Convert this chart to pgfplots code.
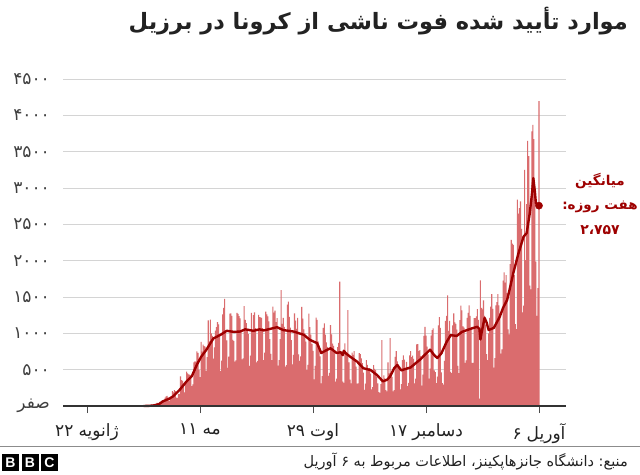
\documentclass[border=0pt]{standalone}
\usepackage{pgfplots}
\pgfplotsset{compat=1.18}
\usepackage{fontspec}
\setmainfont{DejaVu Sans}
\newfontfamily\arabicfont[Script=Arabic]{DejaVu Sans}
\newfontfamily\latinfont{Liberation Sans}
\TeXXeTstate=1
\newcommand\w[1]{\hbox{#1}}
\definecolor{barc}{RGB}{218,108,110}
\definecolor{linec}{RGB}{158,0,0}
\definecolor{gridc}{RGB}{212,212,212}
\definecolor{txt}{RGB}{34,34,34}
\begin{document}
\begin{tikzpicture}[x=1pt,y=1pt]
\useasboundingbox (0,0) rectangle (640,-474);
\fill[white] (0,0) rectangle (640,-474);
\begin{axis}[
  at={(63pt,-406pt)}, anchor=south west,
  scale only axis, width=503pt, height=327pt,
  xmin=-23.4, xmax=466.3, ymin=0, ymax=4500,
  axis line style={draw=none},
  ymajorgrids, grid style={gridc, line width=0.9pt},
  ytick={0,500,1000,1500,2000,2500,3000,3500,4000,4500},
  yticklabels={صفر,۵۰۰,۱۰۰۰,۱۵۰۰,۲۰۰۰,۲۵۰۰,۳۰۰۰,۳۵۰۰,۴۰۰۰,۴۵۰۰},
  ytick style={draw=none},
  yticklabel style={font=\arabicfont\fontsize{17}{17}\selectfont, text=black!75, anchor=east, inner sep=0pt, xshift=-6pt},
  xtick={0,110,220,330,440},
  xticklabels={{\beginR\w{ژانویه}\hspace{0.3em}\w{۲۲}\endR},{\beginR\w{مه}\hspace{0.3em}\w{۱۱}\endR},{\beginR\w{اوت}\hspace{0.3em}\w{۲۹}\endR},{\beginR\w{دسامبر}\hspace{0.3em}\w{۱۷}\endR},{\beginR\w{آوریل}\hspace{0.3em}\w{۶}\endR}},
  xtick pos=lower,
  xtick style={draw=black!70, line width=0.9pt},
  tick align=outside, major tick length=7pt,
  xticklabel style={font=\arabicfont\fontsize{17}{17}\selectfont, text=txt, anchor=north, yshift=-7pt},
  clip=false,
]
\addplot[ybar, bar width=1.05, bar shift=0pt, fill=barc, draw=none] table[row sep=\\, x expr=\coordindex+55, y=v] {
v\\
1\\3\\4\\4\\7\\7\\9\\
12\\20\\15\\18\\22\\23\\42\\
42\\40\\58\\60\\73\\54\\67\\
114\\133\\141\\115\\68\\99\\105\\
204\\188\\217\\206\\115\\113\\166\\
165\\407\\357\\346\\310\\189\\338\\
474\\449\\435\\428\\421\\275\\296\\
600\\615\\610\\751\\730\\496\\396\\
881\\749\\844\\824\\816\\485\\674\\
1179\\888\\1188\\1001\\965\\653\\807\\
1039\\1086\\1156\\1124\\956\\480\\623\\
1262\\1349\\1473\\1005\\904\\525\\679\\
1272\\1274\\1239\\909\\892\\612\\627\\
1282\\1269\\1238\\1206\\1022\\641\\654\\
1374\\1185\\1141\\1055\\990\\552\\692\\
1280\\1038\\1252\\1290\\1071\\602\\620\\
1254\\1223\\1220\\1214\\1071\\631\\733\\
1300\\1261\\1233\\1163\\921\\716\\632\\
1367\\1284\\1311\\1156\\1211\\555\\632\\
921\\1595\\1129\\1212\\1088\\541\\561\\
1394\\1437\\1226\\1079\\905\\572\\703\\
1274\\1175\\1060\\1212\\709\\620\\684\\
1365\\1204\\1054\\1000\\885\\494\\565\\
1271\\1085\\984\\855\\758\\366\\553\\
1215\\1184\\888\\815\\682\\310\\410\\
1075\\1136\\983\\874\\814\\415\\455\\
1113\\987\\858\\829\\739\\336\\377\\
809\\869\\1710\\729\\700\\335\\317\\
863\\729\\732\\1320\\599\\363\\310\\
734\\702\\754\\620\\543\\309\\312\\
728\\713\\656\\591\\461\\223\\309\\
631\\566\\497\\523\\444\\230\\259\\
562\\510\\495\\399\\311\\190\\179\\
300\\907\\350\\420\\380\\220\\200\\
600\\450\\935\\450\\400\\200\\220\\
676\\754\\614\\569\\507\\228\\302\\
630\\698\\638\\525\\606\\272\\317\\
697\\755\\672\\694\\648\\313\\376\\
848\\851\\754\\770\\686\\279\\433\\
964\\1090\\968\\817\\709\\378\\515\\
968\\1045\\1070\\489\\465\\314\\405\\
1111\\1224\\1074\\462\\314\\293\\620\\
1171\\1242\\1524\\1035\\1171\\469\\452\\
1110\\1274\\1151\\1131\\1050\\551\\452\\
1183\\1382\\1316\\1096\\1079\\595\\627\\
1214\\1283\\1386\\1239\\1050\\595\\595\\
1209\\1210\\1232\\1333\\1184\\100\\1730\\
1350\\1330\\1452\\1239\\1119\\713\\631\\
1000\\1212\\1367\\1541\\1337\\527\\660\\
1386\\1428\\1541\\1386\\1275\\721\\778\\
1726\\1840\\1699\\1800\\1555\\1054\\987\\
1954\\2286\\2233\\2216\\1800\\1127\\1057\\
2841\\2648\\2724\\2815\\2438\\1290\\1383\\
3251\\2009\\2777\\3650\\3438\\1656\\1606\\
3780\\3869\\3673\\2922\\1987\\1240\\1623\\
4195\\
};
\addplot[linec, line width=2.4pt, line join=round] coordinates {
(55,0)(60,2)(65,8)(70,25)(74,65)(80,100)(84,135)(90,220)(97,340)(102,410)
(107,570)(111,675)(116,770)(123,930)(130,980)(136,1035)(143,1020)(149,1025)
(154,1055)(162,1035)(168,1055)(172,1040)(178,1060)(185,1085)(191,1045)
(201,1025)(211,980)(217,910)(224,865)(228,730)(232,760)(237,795)(243,730)
(247,740)(249,700)(250,760)(252,725)(256,680)(263,610)(269,520)(276,495)
(282,430)(288,340)(292,360)(295,405)(299,520)(302,565)(306,490)(310,510)
(315,530)(320,590)(324,635)(330,720)(334,775)(338,700)(341,660)(345,725)
(350,880)(354,975)(360,965)(365,1020)(370,1045)(375,1070)(380,1090)
(382,1060)(383,915)(384,1000)(387,1213)(389,1150)(391,1046)(396,1075)
(400,1180)(402,1236)(405,1350)(409,1460)(412,1640)(415,1830)(420,2100)
(425,2330)(428,2380)(431,2650)(433,2900)(434.5,3136)(436,2950)(437,2790)
(440,2757)
};
\addplot[only marks, mark=*, mark size=3.6pt, color=linec] coordinates {(440,2757)};
\draw[black!80, line width=2pt] (rel axis cs:0,0) -- (rel axis cs:1,0);
\end{axis}
\node[anchor=base east, font=\arabicfont\bfseries\fontsize{22.5}{22.5}\selectfont, text=txt, inner sep=0pt] at (628,-29) {\beginR\w{موارد} \w{تأیید} \w{شده} \w{فوت} \w{ناشی} \w{از} \w{کرونا} \w{در} \w{برزیل}\endR};
\node[anchor=base, font=\arabicfont\bfseries\fontsize{13.5}{13.5}\selectfont, text=linec, inner sep=0pt] at (600,-185) {\beginR\w{میانگین}\endR};
\node[anchor=base, font=\arabicfont\bfseries\fontsize{13.5}{13.5}\selectfont, text=linec, inner sep=0pt] at (600,-209) {\beginR\w{هفت} \w{روزه}\w{:}\endR};
\node[anchor=base, font=\arabicfont\bfseries\fontsize{14}{14}\selectfont, text=linec, inner sep=0pt] at (600,-234) {۲،۷۵۷};
\draw[black!45, line width=0.8pt] (0,-446) -- (640,-446);
\node[anchor=base east, font=\arabicfont\fontsize{14.5}{14.5}\selectfont, text=txt, inner sep=0pt] at (628,-466) {\beginR\w{منبع}\w{:} \w{دانشگاه} \w{جانزهاپکینز}\w{،} \w{اطلاعات} \w{مربوط} \w{به} \w{۶} \w{آوریل}\endR};
\foreach \i/\l in {0/B,1/B,2/C} {
  \fill[black] ({2+\i*19.5},-454) rectangle ++(17,-17);
  \node[white, font=\latinfont\bfseries\fontsize{14}{14}\selectfont, inner sep=0pt] at ({2+\i*19.5+8.5},-462.5) {\l};
}
\end{tikzpicture}
\end{document}
